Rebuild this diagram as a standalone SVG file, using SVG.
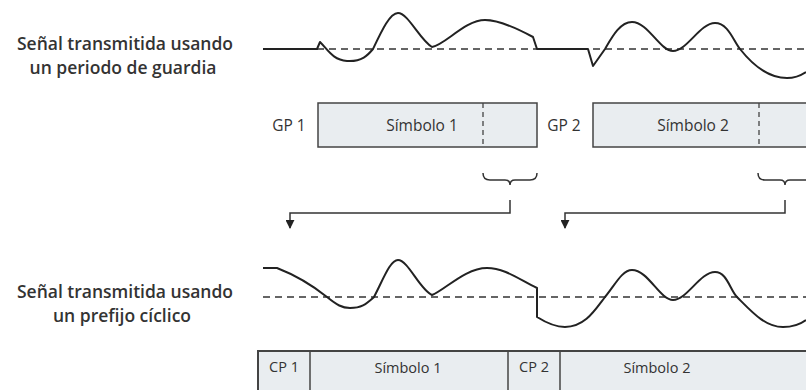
<svg xmlns="http://www.w3.org/2000/svg" width="806" height="390" viewBox="0 0 806 390">
<style>
.lbl{font-family:"Open Sans","Liberation Sans",sans-serif;font-weight:600;font-size:17.5px;fill:#333;text-anchor:middle}
.bt{font-family:"Open Sans","Liberation Sans",sans-serif;font-size:15.5px;fill:#333;text-anchor:middle}
.bb{font-family:"Open Sans","Liberation Sans",sans-serif;font-size:14.5px;fill:#333;text-anchor:middle}
.wave{fill:none;stroke:#222;stroke-width:2;stroke-linejoin:round}
.base{fill:none;stroke:#333;stroke-width:1.6;stroke-dasharray:7 5}
.box{fill:#e9edf0;stroke:#444;stroke-width:1.5}
.div{stroke:#444;stroke-width:1.5}
.dash{stroke:#444;stroke-width:1.3;stroke-dasharray:5 4}
.conn{fill:none;stroke:#333;stroke-width:1.5}
</style>
<defs>
<marker id="ah" viewBox="0 0 10 10" refX="9" refY="5" markerWidth="9" markerHeight="9" orient="auto" markerUnits="userSpaceOnUse">
<path d="M0,0 L10,5 L0,10 Z" fill="#222"/>
</marker>
</defs>
<rect width="806" height="390" fill="#fff"/>

<g id="label-top">
<text class="lbl" x="125" y="50">Señal transmitida usando</text>
<text class="lbl" x="123" y="74">un periodo de guardia</text>
</g>
<g id="wave-top">
<path class="base" d="M317,49 L806,49"/>
<path class="wave" d="M263,49 L317,49 L320,42 C328,50 333,60 347,61 C362,62 368,55 373,49 C382,30 390,13 398,13 C408,13 420,40 432,47 C445,45 465,20 485,20 C500,20 520,30 533,37 L537,49 L588,49 L593,66 L605,49 C612,37 620,22 632,22 C648,22 660,51 673,51 C687,51 700,23 715,23 C728,23 733,40 740,49 C755,68 770,78 787,78 C797,78 803,74 806,72"/>
</g>
<g id="gp1">
<text class="bt" x="289" y="131">GP 1</text>
</g>
<g id="symbol1-top">
<rect class="box" x="318" y="103" width="219" height="44"/>
<line class="dash" x1="483" y1="103" x2="483" y2="147"/>
<text class="bt" x="422" y="131">Símbolo 1</text>
</g>
<g id="gp2">
<text class="bt" x="564" y="131">GP 2</text>
</g>
<g id="symbol2-top">
<rect class="box" x="593" y="103" width="230" height="44"/>
<line class="dash" x1="759" y1="103" x2="759" y2="147"/>
<text class="bt" x="693" y="131">Símbolo 2</text>
</g>

<g id="connectors">
<path class="conn" d="M483,173 Q483,180 490,180 L505,180 Q510,180 510,185 Q510,180 515,180 L530,180 Q537,180 537,173"/>
<path class="conn" d="M758,173 Q758,180 765,180 L780,180 Q785,180 785,185 Q785,180 790,180 L806,180"/>
<path class="conn" d="M510,200 L510,213 L290,213 L290,228" marker-end="url(#ah)"/>
<path class="conn" d="M785,200 L785,213 L565,213 L565,228" marker-end="url(#ah)"/>
</g>

<g id="label-bottom">
<text class="lbl" x="125" y="298">Señal transmitida usando</text>
<text class="lbl" x="122" y="322">un prefijo cíclico</text>
</g>
<g id="wave-bottom">
<path class="base" d="M263,297 L806,297"/>
<path class="wave" d="M263,268 L277,268 C295,275 312,285 327,297 C337,305 342,308 350,308 C362,308 366,304 374,297 C383,280 390,260 398,260 C408,260 420,290 432,295 C445,290 465,268 487,268 C505,268 520,280 537,288 L537,317 C545,322 555,327 565,327 C585,327 595,310 605,297 C615,285 622,270 632,270 C648,270 660,300 673,300 C687,300 700,272 715,272 C727,272 730,290 737,297 C752,312 765,327 783,327 C795,327 802,323 806,320"/>
</g>
<g id="cp-row">
<rect class="box" x="258" y="351" width="560" height="50" style="stroke-width:2"/>
<line class="div" x1="310" y1="351" x2="310" y2="390"/>
<line class="div" x1="508" y1="351" x2="508" y2="390"/>
<line class="div" x1="560" y1="351" x2="560" y2="390"/>
</g>
<g id="cp1"><text class="bb" x="284" y="372">CP 1</text></g>
<g id="symbol1-bottom"><text class="bb" x="408" y="373">Símbolo 1</text></g>
<g id="cp2"><text class="bb" x="534" y="372">CP 2</text></g>
<g id="symbol2-bottom"><text class="bb" x="657" y="373">Símbolo 2</text></g>
</svg>
